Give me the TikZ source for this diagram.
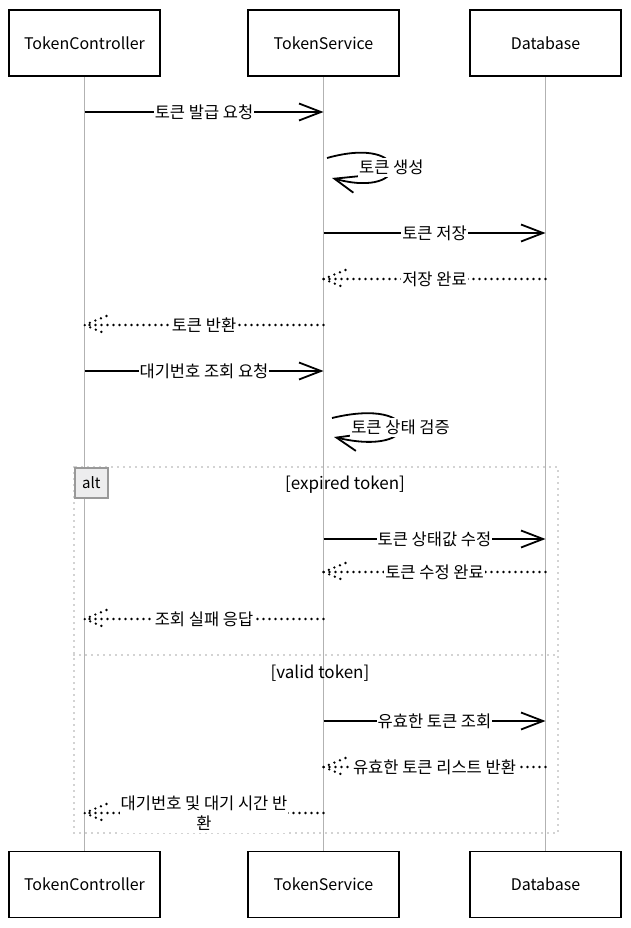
\documentclass[tikz,border=0pt]{standalone}
\usepackage{fontspec}
\setmainfont{Noto Sans CJK KR}
\usetikzlibrary{arrows.meta}

\begin{document}
\begin{tikzpicture}[x=1pt, y=-1pt]
  \tikzset{
    actor/.style={draw, line width=1.8pt, minimum width=151pt, minimum height=66pt, font=\fontsize{16}{18}\selectfont},
    lifeline/.style={draw=black!30, line width=1.3pt},
    call/.style={line width=1.8pt, -{Straight Barb[length=22pt, width=17pt, line width=1.8pt]}},
    reply/.style={line width=2.6pt, line cap=round, dash pattern=on 0pt off 6pt},
    msg/.style={fill=white, inner xsep=1pt, inner ysep=2pt, font=\fontsize{16.5}{20.5}\selectfont},
    guard/.style={font=\fontsize{17}{19}\selectfont},
    frame/.style={draw=black!35, line width=1.6pt, line cap=round, dash pattern=on 0pt off 6pt},
    altbox/.style={draw=black!40, fill=blue!3!black!7, line width=1.5pt, minimum width=33pt, minimum height=30pt, inner sep=1pt, font=\fontsize{15}{17}\selectfont},
    dothead/.pic={\draw[reply] (22,-9) -- (0,0) -- (22,9);},
  }
  \useasboundingbox (0,0) rectangle (630,928);

  % participants
  \node[actor] (ctrlTop) at (84.5,43) {TokenController};
  \node[actor] (svcTop)  at (323.5,43) {TokenService};
  \node[actor] (dbTop)   at (545.5,43) {Database};
  \node[actor] (ctrlBot) at (84.5,884.5) {TokenController};
  \node[actor] (svcBot)  at (323.5,884.5) {TokenService};
  \node[actor] (dbBot)   at (545.5,884.5) {Database};

  \draw[lifeline] (ctrlTop) -- (ctrlBot);
  \draw[lifeline] (svcTop) -- (svcBot);
  \draw[lifeline] (dbTop) -- (dbBot);

  % alt frame
  \draw[frame] (74,467) rectangle (558,833);
  \draw[frame] (74,655) -- (558,655);
  \node[altbox, anchor=north west] (alt) at (74,467) {alt};
  \node[guard] (expired) at (345,485) {[expired token]};
  \node[guard] (valid) at (320,673) {[valid token]};

  % token issue
  \draw[call] (ctrlTop |- 0,112) -- node[msg] {토큰 발급 요청} (svcTop |- 0,112);
  \draw[call] (327,158) .. controls (412,134) and (412,200) .. node[msg] {토큰 생성} (332,178);
  \draw[call] (svcTop |- 0,233) -- node[msg] {토큰 저장} (dbTop |- 0,233);
  \draw[reply] (dbTop |- 0,279) -- node[msg] {저장 완료} (svcTop |- 0,279);
  \pic at (svcTop |- 0,279) {dothead};
  \draw[reply] (svcTop |- 0,325) -- node[msg] {토큰 반환} (ctrlTop |- 0,325);
  \pic at (ctrlTop |- 0,325) {dothead};

  % queue lookup
  \draw[call] (ctrlTop |- 0,371) -- node[msg] {대기번호 조회 요청} (svcTop |- 0,371);
  \draw[call] (332,418) .. controls (423,396) and (423,458) .. node[msg] {토큰 상태 검증} (334,437);

  % expired token
  \draw[call] (svcTop |- 0,539) -- node[msg] {토큰 상태값 수정} (dbTop |- 0,539);
  \draw[reply] (dbTop |- 0,572) -- node[msg] {토큰 수정 완료} (svcTop |- 0,572);
  \pic at (svcTop |- 0,572) {dothead};
  \draw[reply] (svcTop |- 0,619) -- node[msg] {조회 실패 응답} (ctrlTop |- 0,619);
  \pic at (ctrlTop |- 0,619) {dothead};

  % valid token
  \draw[call] (svcTop |- 0,721) -- node[msg] {유효한 토큰 조회} (dbTop |- 0,721);
  \draw[reply] (dbTop |- 0,767) -- node[msg] {유효한 토큰 리스트 반환} (svcTop |- 0,767);
  \pic at (svcTop |- 0,767) {dothead};
  \draw[reply] (svcTop |- 0,813) -- node[msg, align=center] {대기번호 및 대기 시간 반\\환} (ctrlTop |- 0,813);
  \pic at (ctrlTop |- 0,813) {dothead};
\end{tikzpicture}
\end{document}
